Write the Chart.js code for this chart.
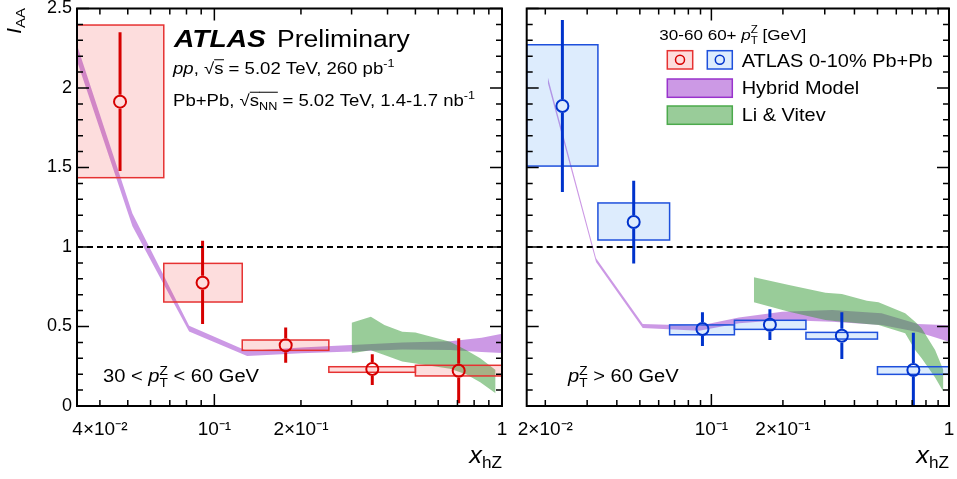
<!DOCTYPE html>
<html>
<head>
<meta charset="utf-8">
<script src="https://cdn.jsdelivr.net/npm/chart.js@4.4.1/dist/chart.umd.min.js"></script>
<style>
  html, body { margin: 0; padding: 0; background: #fff; }
  #wrap { position: relative; width: 957px; height: 479px; }
  canvas { position: absolute; top: 0; }
  #left { left: 0; }
  #right { left: 510px; }
</style>
</head>
<body>
<div id="wrap">
  <canvas id="left" width="510" height="479"></canvas>
  <canvas id="right" width="447" height="479"></canvas>
</div>
<script>
// ---- values ----

// 30 < pT < 60 GeV (red)
const lowX      = [0.047, 0.091, 0.177, 0.354, 0.707];
const lowY      = [1.914, 0.775, 0.382, 0.233, 0.222];
const lowErrLo  = [1.478, 0.516, 0.272, 0.132, 0.017];
const lowErrHi  = [2.35, 1.04, 0.493, 0.325, 0.426];
const lowBinLo  = [0.0333, 0.0667, 0.125, 0.25, 0.5];
const lowBinHi  = [0.0667, 0.125, 0.25, 0.5, 1.0];
const lowSysLo  = [1.436, 0.654, 0.350, 0.212, 0.189];
const lowSysHi  = [2.396, 0.897, 0.415, 0.247, 0.256];

// pT > 60 GeV (blue)
const highX     = [0.0236, 0.0471, 0.0917, 0.1763, 0.354, 0.708];
const highY     = [1.887, 1.157, 0.484, 0.511, 0.442, 0.226];
const highErrLo = [1.346, 0.897, 0.377, 0.415, 0.296, 0.0];
const highErrHi = [2.428, 1.417, 0.589, 0.608, 0.589, 0.461];
const highBinLo = [0.0167, 0.0333, 0.0667, 0.125, 0.25, 0.5];
const highBinHi = [0.0333, 0.0667, 0.125, 0.25, 0.5, 1.0];
const highSysLo = [1.509, 1.044, 0.448, 0.482, 0.421, 0.199];
const highSysHi = [2.272, 1.277, 0.51, 0.539, 0.463, 0.247];

// Hybrid model band
const hybLowX   = [0.0333, 0.0519, 0.0817, 0.130, 0.2, 0.3, 0.45, 0.66, 0.85, 1.0];
const hybLowLo  = [2.17, 1.13, 0.469, 0.314, 0.332, 0.342, 0.356, 0.352, 0.34, 0.334];
const hybLowHi  = [2.27, 1.21, 0.505, 0.346, 0.368, 0.384, 0.40, 0.408, 0.43, 0.454];
const hybHighX  = [0.0205, 0.0327, 0.0514, 0.0888, 0.1306, 0.1986, 0.322, 0.52, 0.74, 1.0];
const hybHighLo = [2.032, 0.906, 0.491, 0.474, 0.52, 0.541, 0.53, 0.509, 0.465, 0.404];
const hybHighHi = [2.068, 0.930, 0.515, 0.504, 0.556, 0.593, 0.604, 0.583, 0.515, 0.508];

// Li & Vitev band
const lvLowX    = [0.30, 0.35, 0.39, 0.45, 0.50, 0.66, 0.75, 0.84, 0.95];
const lvLowLo   = [0.331, 0.350, 0.32, 0.280, 0.268, 0.235, 0.20, 0.150, 0.080];
const lvLowHi   = [0.524, 0.562, 0.509, 0.467, 0.463, 0.404, 0.352, 0.30, 0.226];
const lvHighX   = [0.151, 0.212, 0.302, 0.354, 0.451, 0.505, 0.654, 0.72, 0.767, 0.874, 0.947];
const lvHighLo  = [0.652, 0.593, 0.541, 0.53, 0.515, 0.509, 0.457, 0.352, 0.30, 0.18, 0.09];
const lvHighHi  = [0.809, 0.761, 0.713, 0.704, 0.662, 0.652, 0.583, 0.53, 0.489, 0.352, 0.226];

// axis ticks
const yTicks = [0, 0.5, 1, 1.5, 2, 2.5];
const yLabels = ['0', '0.5', '1', '1.5', '2', '2.5'];
const lowXTicks  = [0.04, 0.1, 0.2, 1];
const lowXLabels = ['4\u00d710\u207b\u00b2', '10\u207b\u00b9', '2\u00d710\u207b\u00b9', '1'];
const highXTicks  = [0.02, 0.1, 0.2, 1];
const highXLabels = ['2\u00d710\u207b\u00b2', '10\u207b\u00b9', '2\u00d710\u207b\u00b9', '1'];

const FAM = '"Liberation Sans", Arial, sans-serif';
const RED = 'rgb(214,0,0)', RED_BOX = 'rgb(230,50,50)', RED_FILL = 'rgba(242,28,28,0.15)';
const BLUE = 'rgb(0,51,204)', BLUE_BOX = 'rgb(30,80,220)', BLUE_FILL = 'rgba(28,128,242,0.15)';
const PURPLE = 'rgba(153,51,204,0.5)', PURPLE_EDGE = 'rgb(153,51,204)';
const GREEN = 'rgba(51,153,51,0.5)', GREEN_EDGE = 'rgb(76,170,76)';

// per-canvas extras, kept out of chart options (functions there become scriptable)
const panelText = {};
const panelErrors = {};

function pts(xs, ys) { return xs.map((x, i) => ({ x: x, y: ys[i] })); }

function font(size, st) {
  st = st || '';
  return (st.includes('i') ? 'italic ' : '') + (st.includes('b') ? 'bold ' : '') + size + 'px ' + FAM;
}

// tiny rich text: runs of {t, s, k:'sup'|'sub'|'stack', bar}
function runW(ctx, r, size) {
  if (r.k === 'stack') {
    ctx.font = font(size * 0.68);
    return Math.max(ctx.measureText(r.sup).width, ctx.measureText(r.sub).width);
  }
  const sz = r.k ? size * 0.68 : size;
  ctx.font = font(sz, r.s);
  return ctx.measureText(r.t).width;
}
function drawRich(ctx, x, y, runs, size, stretch, align) {
  ctx.save();
  let total = 0;
  runs.forEach(r => { total += runW(ctx, r, size); });
  ctx.translate(x - (align === 'right' ? total * stretch : 0), y);
  ctx.scale(stretch, 1);
  ctx.fillStyle = '#000';
  ctx.strokeStyle = '#000';
  ctx.textBaseline = 'alphabetic';
  ctx.textAlign = 'left';
  let cx = 0;
  runs.forEach(r => {
    const w = runW(ctx, r, size);
    if (r.k === 'stack') {
      ctx.font = font(size * 0.68);
      ctx.fillText(r.sup, cx, -size * 0.42);
      ctx.fillText(r.sub, cx, size * 0.3);
    } else {
      const dy = r.k === 'sup' ? -size * 0.42 : r.k === 'sub' ? size * 0.22 : 0;
      ctx.font = font(r.k ? size * 0.68 : size, r.s);
      ctx.fillText(r.t, cx, dy);
    }
    if (r.bar) {
      ctx.lineWidth = 1;
      ctx.beginPath();
      ctx.moveTo(cx, -size * 0.86);
      ctx.lineTo(cx + w + 0.5, -size * 0.86);
      ctx.stroke();
    }
    cx += w;
  });
  ctx.restore();
}

// systematic boxes and statistical bars, drawn just before the unity line and markers
const errorPlugin = {
  id: 'errors',
  beforeDatasetDraw(chart, args) {
    if (args.index !== 1) return;
    const e = panelErrors[chart.canvas.id];
    const xs = chart.scales.x, ys = chart.scales.y, a = chart.chartArea, ctx = chart.ctx;
    ctx.save();
    ctx.beginPath();
    ctx.rect(a.left, a.top, a.right - a.left, a.bottom - a.top);
    ctx.clip();
    e.x.forEach((x, i) => {
      const x0 = xs.getPixelForValue(e.binLo[i]), x1 = xs.getPixelForValue(e.binHi[i]);
      const y0 = ys.getPixelForValue(e.sysHi[i]), y1 = ys.getPixelForValue(e.sysLo[i]);
      ctx.fillStyle = e.fill;
      ctx.fillRect(x0, y0, x1 - x0, y1 - y0);
      ctx.strokeStyle = e.edge;
      ctx.lineWidth = 1.5;
      ctx.strokeRect(x0, y0, x1 - x0, y1 - y0);
    });
    e.x.forEach((x, i) => {
      const px = xs.getPixelForValue(x), py = ys.getPixelForValue(e.y[i]);
      const top = ys.getPixelForValue(e.errHi[i]), bot = ys.getPixelForValue(e.errLo[i]);
      const r = 7;
      ctx.strokeStyle = e.color;
      ctx.lineWidth = 3;
      ctx.beginPath();
      if (top < py - r) { ctx.moveTo(px, top); ctx.lineTo(px, py - r); }
      if (bot > py + r) { ctx.moveTo(px, py + r); ctx.lineTo(px, bot); }
      ctx.stroke();
    });
    ctx.restore();
  }
};

// frame with inward ticks on all four sides
const framePlugin = {
  id: 'frame',
  afterDraw(chart) {
    const xs = chart.scales.x, ys = chart.scales.y, a = chart.chartArea, ctx = chart.ctx;
    ctx.save();
    ctx.strokeStyle = '#000';
    ctx.lineWidth = 1.5;
    ctx.beginPath();
    for (let k = 0; k <= 25; k++) {
      const py = ys.getPixelForValue(k / 10);
      const len = k % 5 === 0 ? 12 : 6;
      ctx.moveTo(a.left, py); ctx.lineTo(a.left + len, py);
      ctx.moveTo(a.right, py); ctx.lineTo(a.right - len, py);
    }
    for (let d = -2; d <= 0; d++) {
      for (let m = 1; m <= 9; m++) {
        const v = m * Math.pow(10, d);
        if (v < xs.min * 0.999 || v > xs.max * 1.001) continue;
        const px = xs.getPixelForValue(v);
        const len = m === 1 ? 12 : 6;
        ctx.moveTo(px, a.bottom); ctx.lineTo(px, a.bottom - len);
        ctx.moveTo(px, a.top); ctx.lineTo(px, a.top + len);
      }
    }
    ctx.stroke();
    ctx.lineWidth = 2;
    ctx.strokeRect(a.left, a.top, a.right - a.left, a.bottom - a.top);
    ctx.restore();
    // axis title x_hZ
    drawRich(ctx, a.right, 463, [{ t: 'x', s: 'i' }, { t: 'hZ', k: 'sub' }], 23, 1.1, 'right');
    const extra = panelText[chart.canvas.id];
    if (extra) extra(ctx);
  }
};

function makePanel(id, cfg) {
  panelText[id] = cfg.text;
  panelErrors[id] = cfg.errors;
  const datasets = [
    { type: 'scatter', data: pts(cfg.x, cfg.y), pointRadius: 6, pointHoverRadius: 6, pointBorderWidth: 2,
      pointBorderColor: cfg.color, pointBackgroundColor: 'rgba(0,0,0,0)', showLine: false },
    { type: 'line', data: [{ x: cfg.xMin, y: 1 }, { x: 1, y: 1 }], borderColor: '#000', borderWidth: 2,
      borderDash: [6, 4], pointRadius: 0, fill: false },
    { type: 'line', data: pts(cfg.lvX, cfg.lvLo), borderWidth: 0, borderColor: 'rgba(0,0,0,0)', pointRadius: 0, fill: false },
    { type: 'line', data: pts(cfg.lvX, cfg.lvHi), borderWidth: 0, borderColor: 'rgba(0,0,0,0)', pointRadius: 0,
      fill: '-1', backgroundColor: GREEN },
    { type: 'line', data: pts(cfg.hybX, cfg.hybLo), borderWidth: 0, borderColor: 'rgba(0,0,0,0)', pointRadius: 0, fill: false },
    { type: 'line', data: pts(cfg.hybX, cfg.hybHi), borderWidth: 0, borderColor: 'rgba(0,0,0,0)', pointRadius: 0,
      fill: '-1', backgroundColor: PURPLE }
  ];
  return new Chart(document.getElementById(id), {
    type: 'line',
    data: { datasets: datasets },
    options: {
      responsive: false,
      animation: false,
      devicePixelRatio: 1,
      events: [],
      elements: { line: { tension: 0 } },
      layout: { padding: { left: 0, right: cfg.padRight, top: 8.5, bottom: 0 } },
      plugins: {
        legend: { display: false },
        tooltip: { enabled: false }
      },
      scales: {
        x: {
          type: 'logarithmic', min: cfg.xMin, max: 1, position: 'bottom',
          grid: { display: false, drawTicks: false }, border: { display: false },
          afterBuildTicks: s => { s.ticks = cfg.xTicks.map(v => ({ value: v })); },
          afterFit: s => { s.height = 479 - 406; s.paddingLeft = 0; s.paddingRight = 0; },
          ticks: {
            autoSkip: false, maxRotation: 0, minRotation: 0, padding: 14, color: '#000',
            font: { family: FAM, size: 19, lineHeight: 1 },
            callback: v => { const i = cfg.xTicks.indexOf(v); return i >= 0 ? cfg.xLabels[i] : ''; }
          }
        },
        y: {
          type: 'linear', min: 0, max: 2.5,
          grid: { display: false, drawTicks: false }, border: { display: false },
          afterBuildTicks: s => { s.ticks = yTicks.map(v => ({ value: v })); },
          afterFit: s => { s.width = cfg.yWidth; s.paddingTop = 0; s.paddingBottom = 0; },
          ticks: {
            display: cfg.yLabels, padding: 5, color: '#000', font: { family: FAM, size: 18, lineHeight: 1 },
            callback: v => { const i = yTicks.indexOf(v); return i >= 0 ? yLabels[i] : ''; }
          }
        }
      }
    },
    plugins: [errorPlugin, framePlugin]
  });
}

makePanel('left', {
  x: lowX, y: lowY, color: RED, xMin: 0.0333, xTicks: lowXTicks, xLabels: lowXLabels,
  lvX: lvLowX, lvLo: lvLowLo, lvHi: lvLowHi, hybX: hybLowX, hybLo: hybLowLo, hybHi: hybLowHi,
  padRight: 8, yWidth: 77, yLabels: true,
  errors: { x: lowX, y: lowY, errLo: lowErrLo, errHi: lowErrHi, binLo: lowBinLo, binHi: lowBinHi,
            sysLo: lowSysLo, sysHi: lowSysHi, color: RED, edge: RED_BOX, fill: RED_FILL },
  text: (ctx) => {
    drawRich(ctx, 174, 47, [{ t: 'ATLAS', s: 'bi' }], 24.5, 1.15);
    drawRich(ctx, 277, 47, [{ t: 'Preliminary' }], 23.5, 1.13);
    drawRich(ctx, 173, 73.5, [{ t: 'pp', s: 'i' }, { t: ', ' }, { t: '\u221a' }, { t: 's', bar: true },
      { t: ' = 5.02 TeV, 260 pb' }, { t: '-1', k: 'sup' }], 16, 1.16);
    drawRich(ctx, 173, 106, [{ t: 'Pb+Pb, ' }, { t: '\u221a' }, { t: 's', bar: true }, { t: 'NN', k: 'sub', bar: true },
      { t: ' = 5.02 TeV, 1.4-1.7 nb' }, { t: '-1', k: 'sup' }], 16, 1.16);
    drawRich(ctx, 103, 382, [{ t: '30 < ' }, { t: 'p', s: 'i' }, { k: 'stack', sup: 'Z', sub: 'T' },
      { t: ' < 60 GeV' }], 17.5, 1.15);
    // y title I_AA
    ctx.save();
    ctx.translate(21, 34);
    ctx.rotate(-Math.PI / 2);
    drawRich(ctx, 0, 0, [{ t: 'I', s: 'i' }, { t: 'AA', k: 'sub' }], 20, 1.1);
    ctx.restore();
  }
});

makePanel('right', {
  x: highX, y: highY, color: BLUE, xMin: 0.0167, xTicks: highXTicks, xLabels: highXLabels,
  lvX: lvHighX, lvLo: lvHighLo, lvHi: lvHighHi, hybX: hybHighX, hybLo: hybHighLo, hybHi: hybHighHi,
  padRight: 6.3, yWidth: 16.7, yLabels: false,
  errors: { x: highX, y: highY, errLo: highErrLo, errHi: highErrHi, binLo: highBinLo, binHi: highBinHi,
            sysLo: highSysLo, sysHi: highSysHi, color: BLUE, edge: BLUE_BOX, fill: BLUE_FILL },
  text: (ctx) => {
    const o = 510;
    drawRich(ctx, 659.3 - o, 39.5, [{ t: '30-60 60+ ' }, { t: 'p', s: 'i' }, { k: 'stack', sup: 'Z', sub: 'T' },
      { t: ' [GeV]' }], 15.5, 1.1);
    // legend markers
    ctx.save();
    ctx.lineWidth = 1.5;
    ctx.fillStyle = 'rgb(253,221,221)'; ctx.strokeStyle = RED_BOX;
    ctx.fillRect(667.3 - o, 50.7, 25.4, 18.3); ctx.strokeRect(667.3 - o, 50.7, 25.4, 18.3);
    ctx.strokeStyle = RED; ctx.beginPath(); ctx.arc(680 - o, 59.8, 4.5, 0, 2 * Math.PI); ctx.stroke();
    ctx.fillStyle = 'rgb(221,236,253)'; ctx.strokeStyle = BLUE_BOX;
    ctx.fillRect(707.3 - o, 50.7, 25, 18.3); ctx.strokeRect(707.3 - o, 50.7, 25, 18.3);
    ctx.strokeStyle = BLUE; ctx.beginPath(); ctx.arc(719.8 - o, 59.8, 4.5, 0, 2 * Math.PI); ctx.stroke();
    ctx.fillStyle = PURPLE; ctx.strokeStyle = PURPLE_EDGE;
    ctx.fillRect(667.3 - o, 79, 65, 18.3); ctx.strokeRect(667.3 - o, 79, 65, 18.3);
    ctx.fillStyle = GREEN; ctx.strokeStyle = GREEN_EDGE;
    ctx.fillRect(667.3 - o, 106, 65, 18.3); ctx.strokeRect(667.3 - o, 106, 65, 18.3);
    ctx.restore();
    drawRich(ctx, 741.7 - o, 66.5, [{ t: 'ATLAS 0-10% Pb+Pb' }], 19, 1.05);
    drawRich(ctx, 741.7 - o, 94, [{ t: 'Hybrid Model' }], 19, 1.05);
    drawRich(ctx, 741.7 - o, 121, [{ t: 'Li & Vitev' }], 19, 1.05);
    drawRich(ctx, 568 - o, 382, [{ t: 'p', s: 'i' }, { k: 'stack', sup: 'Z', sub: 'T' }, { t: ' > 60 GeV' }], 17.5, 1.15);
  }
});
</script>
</body>
</html>
